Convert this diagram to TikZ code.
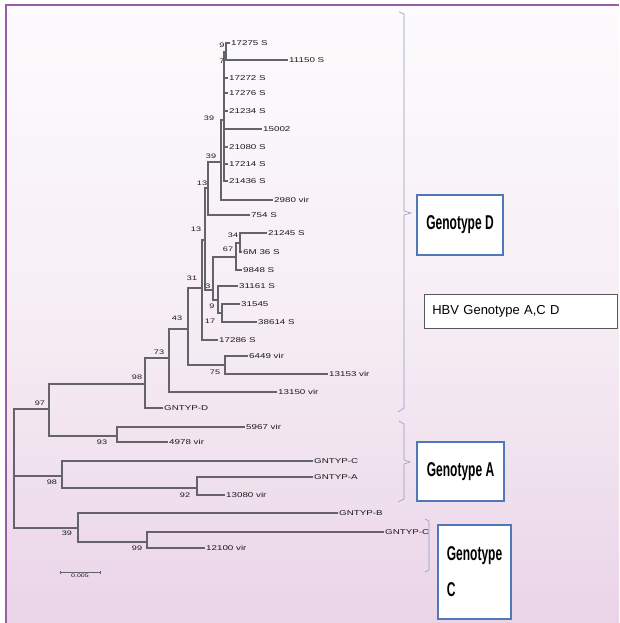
\documentclass[tikz,border=0pt]{standalone}
\usepackage{fontspec}
\setmainfont{Liberation Sans}
\usepackage{graphicx}
\usetikzlibrary{positioning}

\definecolor{treegray}{RGB}{100,98,106}
\definecolor{framepurple}{RGB}{152,92,168}
\definecolor{bgtop}{RGB}{253,251,253}
\definecolor{bgmid}{RGB}{246,238,244}
\definecolor{bgbot}{RGB}{234,212,232}
\definecolor{boxblue}{RGB}{80,120,185}
\definecolor{bracketblue}{RGB}{140,155,195}
\definecolor{legendgray}{RGB}{90,90,90}

\newcommand{\wtxt}[1]{\scalebox{1.4}[1]{#1}}
\newcommand{\gtxt}[1]{\scalebox{0.6}[1]{\bfseries #1}}

\tikzset{
  branch/.style={draw=treegray, line width=1.1pt},
  leaf/.style={anchor=west, inner sep=1pt, text=black!90, font=\fontsize{7}{8}\selectfont},
  boot/.style={inner sep=0pt, text=black!90, font=\fontsize{6.5}{7}\selectfont},
  brace/.style={draw=bracketblue, line width=0.6pt},
  genobox/.style={draw=boxblue, line width=2pt, fill=white, font=\fontsize{20}{22}\selectfont},
  legend/.style={draw=legendgray, line width=0.7pt, fill=white, font=\fontsize{13}{15}\selectfont},
}

\begin{document}
\begin{tikzpicture}[x=1pt, y=-1pt]
        \useasboundingbox (0,0) rectangle (619,623);
        % Background and frame
        \fill[white] (0,0) rectangle (619,623);
        \shade[top color=bgtop, bottom color=bgbot, middle color=bgmid] (6,5) rectangle (619,623);
        \draw[framepurple, line width=2pt] (6,623) -- (6,5) -- (619,5);

        % Inner nodes of the tree
        \coordinate (root) at (14,476);
        \coordinate (n97) at (49,409);
        \coordinate (n98) at (145,384);
        \coordinate (n73) at (169,358);
        \coordinate (n43) at (188,329);
        \coordinate (n31) at (202,288);
        \coordinate (n13b) at (205,240);
        \coordinate (n13a) at (208,188);
        \coordinate (n39b) at (221,162);
        \coordinate (n39a) at (224,120);
        \coordinate (n7) at (226,52);
        \coordinate (n3) at (213,290);
        \coordinate (n67) at (236,257);
        \coordinate (n34) at (240,243);
        \coordinate (n9) at (218,300);
        \coordinate (n17) at (222,313);
        \coordinate (n75) at (225,365);
        \coordinate (n93) at (117,436);
        \coordinate (nA) at (62,476);
        \coordinate (n92) at (197,488);
        \coordinate (nC) at (78,528);
        \coordinate (n99) at (147,542);

        % Leaves
        \node[leaf] (l17275) at (230,43) {\wtxt{17275 S}};
        \node[leaf] (l11150) at (288,60) {\wtxt{11150 S}};
        \node[leaf] (l17272) at (228,78) {\wtxt{17272 S}};
        \node[leaf] (l17276) at (228,93) {\wtxt{17276 S}};
        \node[leaf] (l21234) at (228,111) {\wtxt{21234 S}};
        \node[leaf] (l15002) at (262,129) {\wtxt{15002}};
        \node[leaf] (l21080) at (228,147) {\wtxt{21080 S}};
        \node[leaf] (l17214) at (228,164) {\wtxt{17214 S}};
        \node[leaf] (l21436) at (228,181) {\wtxt{21436 S}};
        \node[leaf] (l2980) at (273,200) {\wtxt{2980 vir}};
        \node[leaf] (l754) at (250,215) {\wtxt{754 S}};
        \node[leaf] (l21245) at (267,233) {\wtxt{21245 S}};
        \node[leaf] (l6m36) at (242,252) {\wtxt{6M 36 S}};
        \node[leaf] (l9848) at (242,270) {\wtxt{9848 S}};
        \node[leaf] (l31161) at (238,286) {\wtxt{31161 S}};
        \node[leaf] (l31545) at (240,304) {\wtxt{31545}};
        \node[leaf] (l38614) at (257,322) {\wtxt{38614 S}};
        \node[leaf] (l17286) at (218,340) {\wtxt{17286 S}};
        \node[leaf] (l6449) at (248,356) {\wtxt{6449 vir}};
        \node[leaf] (l13153) at (328,374) {\wtxt{13153 vir}};
        \node[leaf] (l13150) at (277,392) {\wtxt{13150 vir}};
        \node[leaf] (lgd) at (163,408) {\wtxt{GNTYP-D}};
        \node[leaf] (l5967) at (245,427) {\wtxt{5967 vir}};
        \node[leaf] (l4978) at (168,442) {\wtxt{4978 vir}};
        \node[leaf] (lgc) at (313,461) {\wtxt{GNTYP-C}};
        \node[leaf] (lga) at (313,477) {\wtxt{GNTYP-A}};
        \node[leaf] (l13080) at (225,495) {\wtxt{13080 vir}};
        \node[leaf] (lgb) at (338,513) {\wtxt{GNTYP-B}};
        \node[leaf] (lgc2) at (384,532) {\wtxt{GNTYP-C}};
        \node[leaf] (l12100) at (205,548) {\wtxt{12100 vir}};

        % Branches
        \draw[branch] (root) |- (n97);
        \draw[branch] (root) |- (nA);
        \draw[branch] (root) |- (nC);
        \draw[branch] (n97) |- (n98);
        \draw[branch] (n97) |- (n93);
        \draw[branch] (n98) |- (n73);
        \draw[branch] (n98) |- (lgd.west);
        \draw[branch] (n73) |- (n43);
        \draw[branch] (n73) |- (l13150.west);
        \draw[branch] (n43) |- (n31);
        \draw[branch] (n43) |- (n75);
        \draw[branch] (n31) |- (n13b);
        \draw[branch] (n31) |- (l17286.west);
        \draw[branch] (n13b) |- (n13a);
        \draw[branch] (n13b) |- (n3);
        \draw[branch] (n13a) |- (n39b);
        \draw[branch] (n13a) |- (l754.west);
        \draw[branch] (n39b) |- (n39a);
        \draw[branch] (n39b) |- (l2980.west);
        \draw[branch] (n39a) |- (n7);
        \draw[branch] (n7) |- (l17275.west);
        \draw[branch] (n7) |- (l11150.west);
        \foreach \lf in {l17272,l17276,l21234,l15002,l21080,l17214,l21436}
            \draw[branch] (n39a) |- (\lf.west);
        \draw[branch] (n3) |- (n67);
        \draw[branch] (n3) |- (n9);
        \draw[branch] (n67) |- (n34);
        \draw[branch] (n67) |- (l9848.west);
        \draw[branch] (n34) |- (l21245.west);
        \draw[branch] (n34) |- (l6m36.west);
        \draw[branch] (n9) |- (l31161.west);
        \draw[branch] (n9) |- (n17);
        \draw[branch] (n17) |- (l31545.west);
        \draw[branch] (n17) |- (l38614.west);
        \draw[branch] (n75) |- (l6449.west);
        \draw[branch] (n75) |- (l13153.west);
        \draw[branch] (n93) |- (l5967.west);
        \draw[branch] (n93) |- (l4978.west);
        \draw[branch] (nA) |- (lgc.west);
        \draw[branch] (nA) |- (n92);
        \draw[branch] (n92) |- (lga.west);
        \draw[branch] (n92) |- (l13080.west);
        \draw[branch] (nC) |- (lgb.west);
        \draw[branch] (nC) |- (n99);
        \draw[branch] (n99) |- (lgc2.west);
        \draw[branch] (n99) |- (l12100.west);

        % Bootstrap values
        \node[boot] at (222,45) {\wtxt{9}};
        \node[boot] at (222,61) {\wtxt{7}};
        \node[boot] at (209,118) {\wtxt{39}};
        \node[boot] at (211,156) {\wtxt{39}};
        \node[boot] at (202,183) {\wtxt{13}};
        \node[boot] at (196,229) {\wtxt{13}};
        \node[boot] at (192,278) {\wtxt{31}};
        \node[boot] at (208,286) {\wtxt{3}};
        \node[boot] at (233,235) {\wtxt{34}};
        \node[boot] at (228,249) {\wtxt{67}};
        \node[boot] at (212,306) {\wtxt{9}};
        \node[boot] at (210,321) {\wtxt{17}};
        \node[boot] at (177,318) {\wtxt{43}};
        \node[boot] at (159,352) {\wtxt{73}};
        \node[boot] at (137,377) {\wtxt{98}};
        \node[boot] at (215,372) {\wtxt{75}};
        \node[boot] at (40,403) {\wtxt{97}};
        \node[boot] at (102,442) {\wtxt{93}};
        \node[boot] at (52,482) {\wtxt{98}};
        \node[boot] at (185,495) {\wtxt{92}};
        \node[boot] at (67,533) {\wtxt{39}};
        \node[boot] at (137,548) {\wtxt{99}};

        % Scale bar
        \coordinate (sbL) at (60,572);
        \coordinate (sbM) at (80,572);
        \coordinate (sbR) at (100,572);
        \draw[branch, line width=0.6pt] (sbL) -- (sbR);
        \draw[branch, line width=0.6pt] ([yshift=1.5pt]sbL) -- ([yshift=-1.5pt]sbL);
        \draw[branch, line width=0.6pt] ([yshift=1.5pt]sbR) -- ([yshift=-1.5pt]sbR);
        \node[boot, font=\fontsize{5}{6}\selectfont, below=2pt of sbM] (sblabel) {\wtxt{0.005}};

        % Braces
        \draw[brace] (399,12) -- (404,14) -- (404,211) -- (411,213) -- (404,215) -- (404,408) -- (398,412);
        \draw[brace] (399,421) -- (404,424) -- (404,460) -- (410,462) -- (404,464) -- (404,499) -- (398,502);
        \draw[brace] (425,519) -- (429,521) -- (429,570) -- (425,572);

        % Genotype boxes
        \node[genobox, minimum width=86pt, minimum height=60pt] (boxD) at (460,225) {\gtxt{Genotype D}};
        \node[genobox, minimum width=87pt, minimum height=59pt] (boxA) at (460.5,471.5) {\gtxt{Genotype A}};
        \node[genobox, minimum width=73pt, minimum height=94pt, align=left] (boxC) at (474.5,572) {\gtxt{Genotype}\\[14pt]\gtxt{C}};
        \node[legend, anchor=west, text width=177pt, inner xsep=8pt, minimum height=34pt] (legendbox) at (424,311.5) {HBV Genotype A,C D};
\end{tikzpicture}
\end{document}
